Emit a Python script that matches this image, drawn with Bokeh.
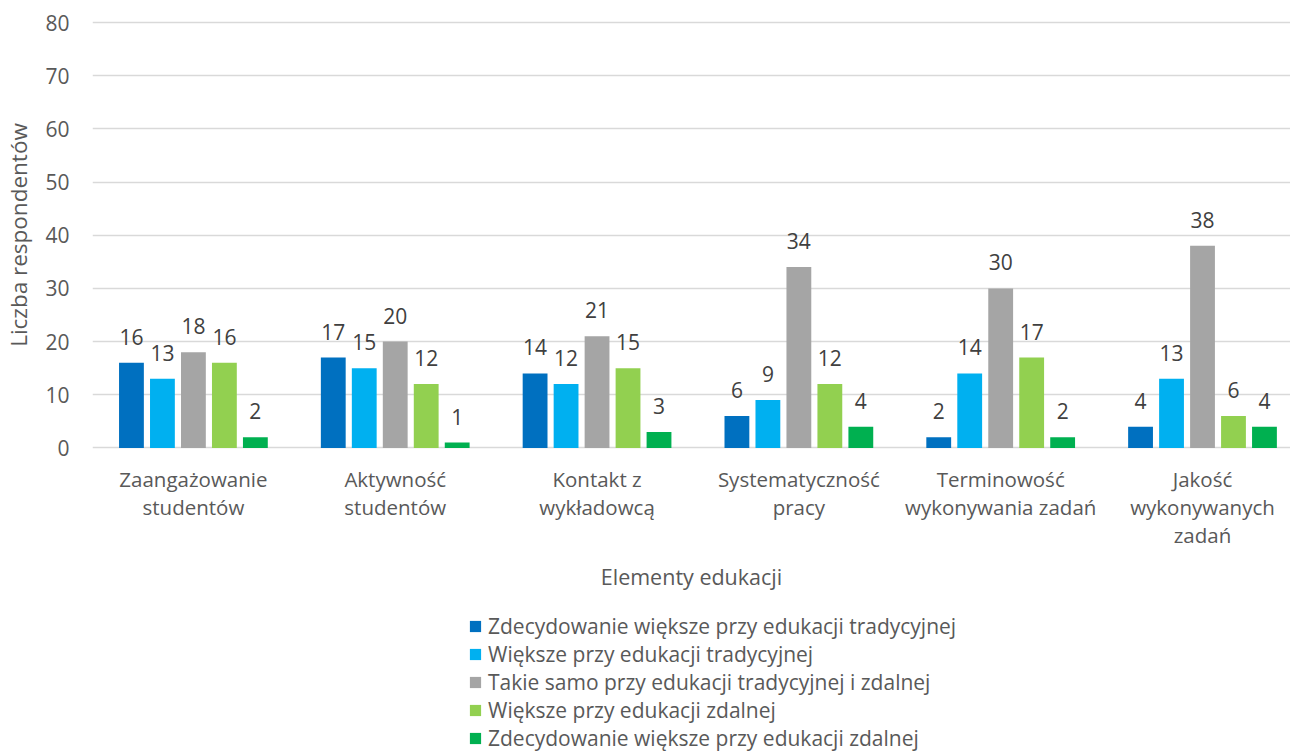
from bokeh.plotting import figure
from bokeh.layouts import column
from bokeh.models import ColumnDataSource, Range1d, LabelSet, Legend, LegendItem, FixedTicker
from bokeh.core.properties import value
from bokeh.embed import file_html
from bokeh.resources import INLINE

categories = ["Zaangażowanie\nstudentów", "Aktywność\nstudentów", "Kontakt z\nwykładowcą",
              "Systematyczność\npracy", "Terminowość\nwykonywania zadań", "Jakość\nwykonywanych\nzadań"]
series_names = ["Zdecydowanie większe przy edukacji tradycyjnej",
                "Większe przy edukacji tradycyjnej",
                "Takie samo przy edukacji tradycyjnej i zdalnej",
                "Większe przy edukacji zdalnej",
                "Zdecydowanie większe przy edukacji zdalnej"]
s1 = [16, 17, 14, 6, 2, 4]
s2 = [13, 15, 12, 9, 14, 13]
s3 = [18, 20, 21, 34, 30, 38]
s4 = [16, 12, 15, 12, 17, 6]
s5 = [2, 1, 3, 4, 2, 4]
colors = ["#0070C0", "#00B0F0", "#A5A5A5", "#92D050", "#00B050"]
y_ticks = [0, 10, 20, 30, 40, 50, 60, 70, 80]

FONT = "Open Sans"
TXT = "#595959"

keys = ["s1", "s2", "s3", "s4", "s5"]
series = [s1, s2, s3, s4, s5]
centers = [i + 0.5 for i in range(len(categories))]
offsets = [-0.307, -0.1535, 0.0, 0.1535, 0.307]

p = figure(x_range=Range1d(0, 5.936), y_range=Range1d(-0.3, 80.38),
           width=1290, height=600, output_backend="svg", toolbar_location=None,
           min_border_left=92, min_border_right=0, min_border_top=20, min_border_bottom=151)
p.outline_line_color = None
p.background_fill_color = "white"

for i, k in enumerate(keys):
    src = ColumnDataSource(dict(x=[c + offsets[i] for c in centers], top=series[i],
                                lbl=[str(v) for v in series[i]]))
    p.vbar(x="x", top="top", width=0.123, source=src, fill_color=colors[i], line_color=None)
    p.add_layout(LabelSet(x="x", y="top", text="lbl", source=src,
                          text_align="center", text_baseline="alphabetic", y_offset=18,
                          text_font=value(FONT), text_font_size="21px", text_color="#404040"))

p.xgrid.grid_line_color = None
p.ygrid.grid_line_color = "#D9D9D9"
p.ygrid.grid_line_width = 1.5

p.xaxis.ticker = FixedTicker(ticks=centers)
p.xaxis.major_label_overrides = {c: cat for c, cat in zip(centers, categories)}
p.xaxis.axis_line_color = None
p.xaxis.major_tick_line_color = None
p.xaxis.minor_tick_line_color = None
p.xaxis.major_tick_out = 0
p.xaxis.major_tick_in = 0
p.xaxis.minor_tick_out = 0
p.xaxis.major_label_standoff = 15
p.xaxis.major_label_text_font = FONT
p.xaxis.major_label_text_font_size = "20.5px"
p.xaxis.major_label_text_color = TXT
p.xaxis.major_label_text_line_height = 1.0
p.xaxis.axis_label = "Elementy edukacji"
p.xaxis.axis_label_standoff = 10
p.xaxis.axis_label_text_font = FONT
p.xaxis.axis_label_text_font_size = "21.5px"
p.xaxis.axis_label_text_font_style = "normal"
p.xaxis.axis_label_text_color = TXT

p.yaxis.ticker = y_ticks
p.yaxis.axis_line_color = None
p.yaxis.major_tick_line_color = None
p.yaxis.minor_tick_line_color = None
p.yaxis.major_tick_out = 0
p.yaxis.major_tick_in = 0
p.yaxis.minor_tick_out = 0
p.yaxis.major_label_standoff = 23
p.yaxis.major_label_text_font = FONT
p.yaxis.major_label_text_font_size = "21px"
p.yaxis.major_label_text_color = TXT
p.yaxis.axis_label = "Liczba respondentów"
p.yaxis.axis_label_standoff = 8
p.yaxis.axis_label_text_font = FONT
p.yaxis.axis_label_text_font_size = "22.5px"
p.yaxis.axis_label_text_font_style = "normal"
p.yaxis.axis_label_text_color = TXT

# legend panel below the chart (swatch renderers sit outside the visible range)
p2 = figure(width=1290, height=151, x_range=Range1d(0, 1), y_range=Range1d(0, 1),
            output_backend="svg", toolbar_location=None,
            min_border_left=92, min_border_right=0, min_border_top=0, min_border_bottom=0)
p2.axis.visible = False
p2.grid.grid_line_color = None
p2.outline_line_color = None
items = []
for i in range(5):
    r = p2.vbar(x=[-5], top=[-5], width=0.1, fill_color=colors[i], line_color=None)
    items.append(LegendItem(label=series_names[i], renderers=[r]))
legend = Legend(items=items, location=(376, -1), orientation="vertical",
                glyph_width=14, glyph_height=14, label_standoff=6, spacing=0, padding=0, margin=0,
                label_text_font=FONT, label_text_font_size="21px", label_text_color=TXT,
                label_height=20, background_fill_alpha=0, border_line_color=None)
p2.add_layout(legend, "center")

layout = column(p, p2, spacing=0)
open("out.html", "w").write(file_html(layout, INLINE))
